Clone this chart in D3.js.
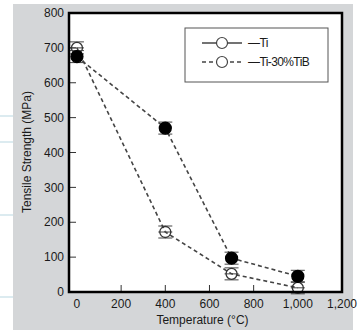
<!DOCTYPE html>
<html>
<head>
<meta charset="utf-8">
<script src="https://cdn.jsdelivr.net/npm/d3@7"></script>
<style>
  body { margin: 0; background: #fff; }
  text { font-family: "Liberation Sans", Arial, sans-serif; }
</style>
</head>
<body>
<div id="chart"></div>
<script>
// data
var temps = [0, 400, 700, 1000];
var solidVals = [675, 470, 97, 45];   // filled markers
var openVals = [700, 172, 52, 12];    // open markers
var xTicks = [0, 200, 400, 600, 800, 1000, 1200];
var yTicks = [0, 100, 200, 300, 400, 500, 600, 700, 800];
var legendNames = ["\u2014Ti", "\u2014Ti-30%TiB"];

var svgWidth = 359, svgHeight = 330;
var margin = { top: 13, right: 17, bottom: 38, left: 69 };
var chartWidth = svgWidth - margin.left - margin.right;
var chartHeight = svgHeight - margin.top - margin.bottom;

var svg = d3.select("#chart").append("svg")
  .attr("width", svgWidth)
  .attr("height", svgHeight);

// page background decorations
[116, 142, 215, 297].forEach(function(y) {
  svg.append("line").attr("x1", 0).attr("x2", 13).attr("y1", y).attr("y2", y)
    .attr("stroke", "#dcebf0").attr("stroke-width", 2);
});
svg.append("rect")
  .attr("x", 13).attr("y", 4)
  .attr("width", 340).attr("height", 326)
  .attr("fill", "#d4d6d8");

var g = svg.append("g")
  .attr("transform", `translate(${margin.left}, ${margin.top})`);

var xScale = d3.scaleLinear().domain([-36, 1200]).range([0, chartWidth]);
var yScale = d3.scaleLinear().domain([0, 800]).range([chartHeight, 0]);

g.append("rect")
  .attr("width", chartWidth).attr("height", chartHeight)
  .attr("fill", "#fff");

// inner ticks
g.selectAll(".yt").data(yTicks.slice(1, -1)).enter().append("line")
  .attr("x1", 0).attr("x2", 7)
  .attr("y1", d => yScale(d)).attr("y2", d => yScale(d))
  .attr("stroke", "#333").attr("stroke-width", 1);
g.selectAll(".xt").data([200, 400, 600, 800]).enter().append("line")
  .attr("x1", d => xScale(d)).attr("x2", d => xScale(d))
  .attr("y1", chartHeight).attr("y2", chartHeight - 7)
  .attr("stroke", "#333").attr("stroke-width", 1);

// tick labels
g.selectAll(".yl").data(yTicks).enter().append("text")
  .attr("x", -5).attr("y", d => yScale(d))
  .attr("dy", "0.35em")
  .attr("text-anchor", "end")
  .attr("font-size", 12)
  .attr("fill", "#1a1a1a")
  .text(d => d);
g.selectAll(".xl").data(xTicks).enter().append("text")
  .attr("x", d => xScale(d)).attr("y", chartHeight + 16)
  .attr("text-anchor", "middle")
  .attr("font-size", 12)
  .attr("fill", "#1a1a1a")
  .text(d => d3.format(",")(d));

// lines
var line = d3.line()
  .x((d, i) => xScale(temps[i]))
  .y(d => yScale(d));

[solidVals, openVals].forEach(function(vals) {
  g.append("path")
    .datum(vals)
    .attr("d", line)
    .attr("fill", "none")
    .attr("stroke", "#444")
    .attr("stroke-width", 1.6)
    .attr("stroke-dasharray", "4,3");
});

// markers with error caps
function markers(vals, filled) {
  var grp = g.append("g");
  vals.forEach(function(v, i) {
    var cx = xScale(temps[i]), cy = yScale(v);
    grp.append("line").attr("x1", cx - 7).attr("x2", cx + 7)
      .attr("y1", cy - 6).attr("y2", cy - 6)
      .attr("stroke", "#444").attr("stroke-width", 1);
    grp.append("line").attr("x1", cx - 7).attr("x2", cx + 7)
      .attr("y1", cy + 6).attr("y2", cy + 6)
      .attr("stroke", "#444").attr("stroke-width", 1);
    if (!filled) {
      grp.append("line").attr("x1", cx - 7).attr("x2", cx + 7)
        .attr("y1", cy).attr("y2", cy)
        .attr("stroke", "#444").attr("stroke-width", 1);
    }
    grp.append("circle")
      .attr("cx", cx).attr("cy", cy)
      .attr("r", filled ? 6 : 5.5)
      .attr("fill", filled ? "#000" : "none")
      .attr("stroke", filled ? "#000" : "#333")
      .attr("stroke-width", 1.3);
  });
}
markers(openVals, false);
markers(solidVals, true);

// frame
g.append("rect")
  .attr("width", chartWidth).attr("height", chartHeight)
  .attr("fill", "none")
  .attr("stroke", "#000").attr("stroke-width", 2.5);

// legend
var legend = svg.append("g");
legend.append("rect")
  .attr("x", 185).attr("y", 28).attr("width", 143).attr("height", 54)
  .attr("fill", "#fff").attr("stroke", "#555").attr("stroke-width", 1);
legendNames.forEach(function(name, i) {
  var y = 43 + i * 19;
  legend.append("line")
    .attr("x1", 202).attr("x2", 242).attr("y1", y).attr("y2", y)
    .attr("stroke", "#444").attr("stroke-width", 1.3)
    .attr("stroke-dasharray", i === 0 ? null : "4,3");
  legend.append("circle")
    .attr("cx", 222).attr("cy", y).attr("r", 5.5)
    .attr("fill", "#fff").attr("stroke", "#444").attr("stroke-width", 1.2);
  legend.append("text")
    .attr("x", 248).attr("y", y).attr("dy", "0.35em")
    .attr("font-size", 12).attr("letter-spacing", -0.6)
    .attr("fill", "#1a1a1a")
    .text(name);
});

// axis titles
svg.append("text")
  .attr("x", margin.left + chartWidth / 2 - 3).attr("y", 324)
  .attr("text-anchor", "middle")
  .attr("font-size", 12).attr("fill", "#1a1a1a")
  .text("Temperature (\u00B0C)");
svg.append("text")
  .attr("transform", "translate(31, 152) rotate(-90)")
  .attr("text-anchor", "middle")
  .attr("font-size", 12).attr("fill", "#1a1a1a")
  .text("Tensile Strength (MPa)");
</script>
</body>
</html>
